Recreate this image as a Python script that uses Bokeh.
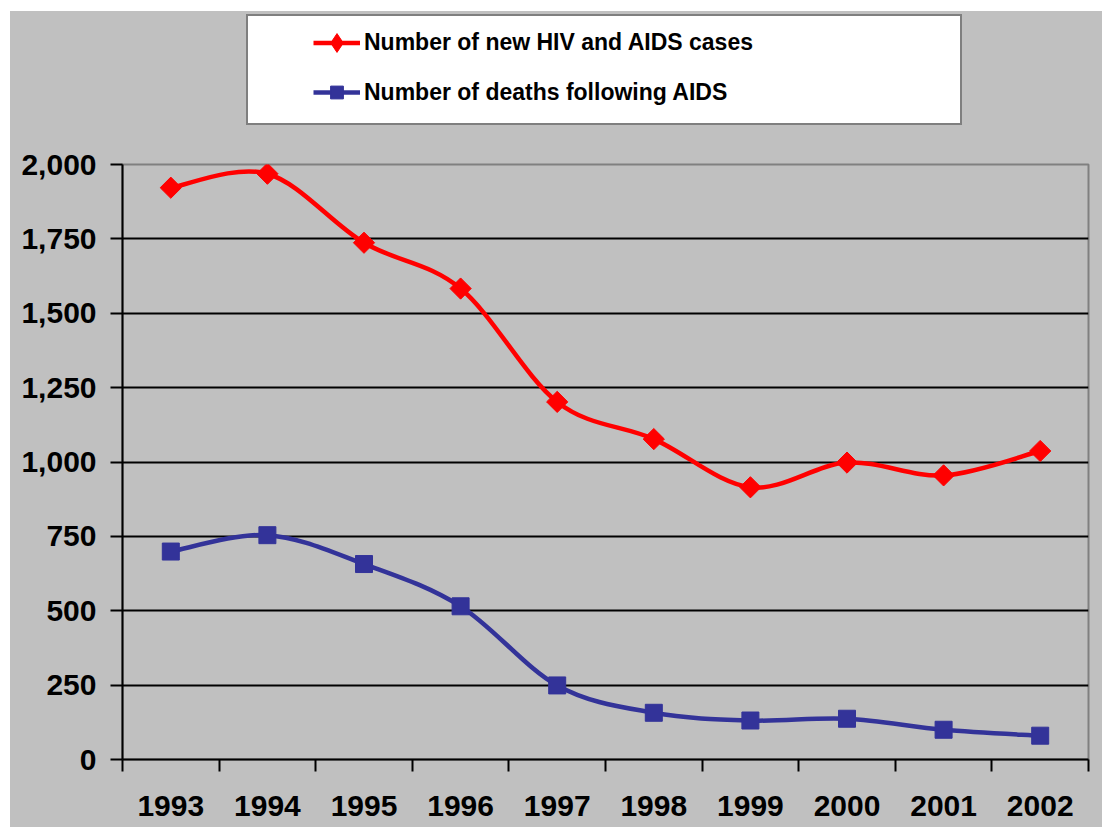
import numpy as np
from bokeh.plotting import figure
from bokeh.layouts import column
from bokeh.models import (Range1d, FixedTicker, NumeralTickFormatter, Legend, LegendItem,
                          ColumnDataSource)
from bokeh.embed import file_html
from bokeh.resources import INLINE

years = ["1993", "1994", "1995", "1996", "1997", "1998", "1999", "2000", "2001", "2002"]
new_cases = [1922, 1969, 1737, 1583, 1202, 1077, 915, 998, 955, 1037]
deaths = [699, 754, 657, 515, 249, 157, 131, 137, 100, 80]
y_ticks = [0, 250, 500, 750, 1000, 1250, 1500, 1750, 2000]

series_names = ["Number of new HIV and AIDS cases", "Number of deaths following AIDS"]
colors = ["#FF0000", "#333399"]
markers = [("square", np.pi / 4, 15), ("square", 0, 17)]
legend_markers = ["diamond", "square"]
legend_rows = [(42, 47), (92, 32)]   # (row centre on page, legend glyph box height)

FONT = "Liberation Sans"
BG = "#C0C0C0"
OX, OY = 10, 11          # white page offset of the grey chart area
W = 1102 - OX
SPLIT = 138              # page y where the legend strip ends and the chart begins
FRAME_L, FRAME_R, FRAME_T, FRAME_B = 122, 1088, 164, 759

xc = np.arange(len(years)) + 0.5

# ---------- legend strip (top) ----------
top = figure(width=W, height=SPLIT - OY, output_backend="svg", toolbar_location=None,
             x_axis_type=None, y_axis_type=None, x_range=Range1d(0, 1), y_range=Range1d(-3, -2),
             min_border_left=FRAME_L - OX, min_border_right=1102 - FRAME_R,
             min_border_top=0, min_border_bottom=0)
top.background_fill_color = BG
top.border_fill_color = BG
top.outline_line_color = None
top.grid.visible = False

box_dummy = top.line(x=xc, y=new_cases, line_alpha=0)
legend_box = Legend(items=[LegendItem(label=" ", renderers=[box_dummy])],
                    location=(246 - FRAME_L, SPLIT - 125), padding=0, margin=0, spacing=0,
                    glyph_width=10, glyph_height=107, label_height=107, label_width=702,
                    label_standoff=0, border_line_color="black", border_line_width=2,
                    background_fill_color="white", background_fill_alpha=1.0)
top.add_layout(legend_box, "center")

for vals, col, name, mk, (cy, gh) in zip([new_cases, deaths], colors, series_names,
                                          legend_markers, legend_rows):
    dl = top.line(x=xc, y=vals, line_color=col, line_width=4.5)
    ds = top.scatter(x=xc, y=vals, marker=mk, size=10, fill_color=col, line_color=col)
    lg = Legend(items=[LegendItem(label=name, renderers=[dl, ds])],
                location=(313 - FRAME_L, SPLIT - (cy + gh / 2)), padding=0, margin=0, spacing=0,
                glyph_width=47, glyph_height=gh, label_height=gh, label_standoff=4,
                border_line_alpha=0, background_fill_alpha=0,
                label_text_font=FONT, label_text_font_style="bold",
                label_text_font_size="23px", label_text_color="black")
    top.add_layout(lg, "center")

# ---------- main chart ----------
p = figure(width=W, height=827 - SPLIT, output_backend="svg", toolbar_location=None,
           x_range=Range1d(0, len(years)), y_range=Range1d(0, 2000),
           min_border_left=FRAME_L - OX, min_border_right=1102 - FRAME_R,
           min_border_top=FRAME_T - SPLIT, min_border_bottom=827 - FRAME_B)
p.background_fill_color = BG
p.border_fill_color = BG
p.outline_line_color = "#808080"
p.outline_line_width = 2


def bezier_source(xs, ys):
    xs = np.asarray(xs, float)
    ys = np.asarray(ys, float)
    n = len(xs)
    d = dict(x0=[], y0=[], x1=[], y1=[], cx0=[], cy0=[], cx1=[], cy1=[])
    for i in range(n - 1):
        im = max(i - 1, 0)
        ip2 = min(i + 2, n - 1)
        d["x0"].append(xs[i]); d["y0"].append(ys[i])
        d["x1"].append(xs[i + 1]); d["y1"].append(ys[i + 1])
        d["cx0"].append(xs[i] + (xs[i + 1] - xs[im]) / 6)
        d["cy0"].append(ys[i] + (ys[i + 1] - ys[im]) / 6)
        d["cx1"].append(xs[i + 1] - (xs[ip2] - xs[i]) / 6)
        d["cy1"].append(ys[i + 1] - (ys[ip2] - ys[i]) / 6)
    return ColumnDataSource(d)


for vals, col, (mk, ang, sz) in zip([new_cases, deaths], colors, markers):
    p.bezier(x0="x0", y0="y0", x1="x1", y1="y1", cx0="cx0", cy0="cy0", cx1="cx1", cy1="cy1",
             source=bezier_source(xc, vals), line_color=col, line_width=4.5)
    p.scatter(x=xc, y=vals, marker=mk, angle=ang, size=sz, fill_color=col, line_color=col)

# Axes
xa = p.xaxis[0]
xa.ticker = FixedTicker(ticks=list(xc), minor_ticks=list(range(len(years) + 1)))
xa.major_label_overrides = {float(v): yr for v, yr in zip(xc, years)}
xa.major_tick_out = 0
xa.major_tick_in = 0
xa.minor_tick_out = 12
xa.minor_tick_in = 0
xa.minor_tick_line_color = "black"
xa.minor_tick_line_width = 2
xa.axis_line_color = "black"
xa.axis_line_width = 2
xa.major_label_text_font = FONT
xa.major_label_text_font_style = "bold"
xa.major_label_text_font_size = "30px"
xa.major_label_text_color = "black"
xa.major_label_standoff = 24

ya = p.yaxis[0]
ya.ticker = FixedTicker(ticks=y_ticks)
ya.formatter = NumeralTickFormatter(format="0,0")
ya.major_tick_out = 12
ya.major_tick_in = 0
ya.minor_tick_out = 0
ya.minor_tick_in = 0
ya.major_tick_line_color = "black"
ya.major_tick_line_width = 2
ya.axis_line_color = "black"
ya.axis_line_width = 2
ya.major_label_text_font = FONT
ya.major_label_text_font_style = "bold"
ya.major_label_text_font_size = "30px"
ya.major_label_text_color = "black"
ya.major_label_standoff = 14

p.xgrid.grid_line_color = None
p.ygrid.ticker = FixedTicker(ticks=y_ticks[1:-1])
p.ygrid.grid_line_color = "black"
p.ygrid.grid_line_width = 2

layout = column(top, p, spacing=0, margin=(OY, 0, 0, OX),
                styles={"background-color": BG})
open("out.html", "w").write(file_html(layout, INLINE))
